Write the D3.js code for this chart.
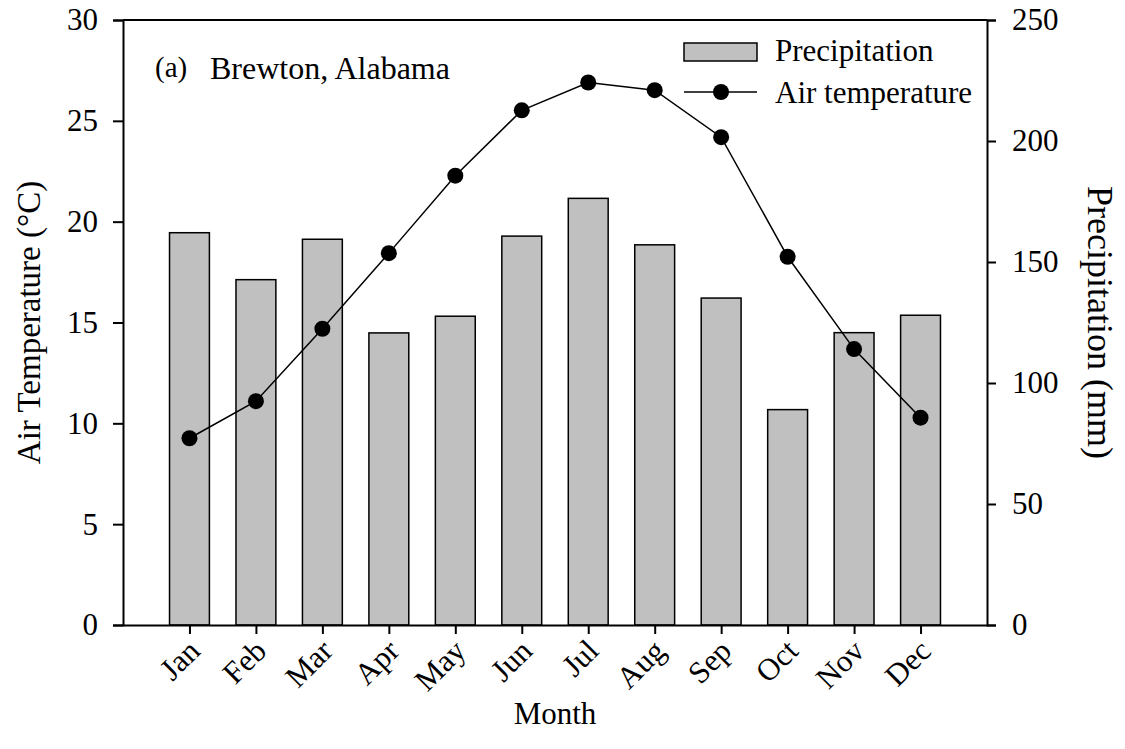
<!DOCTYPE html>
<html>
<head>
<meta charset="utf-8">
<script src="https://cdn.jsdelivr.net/npm/d3@7"></script>
<style>
  body { margin: 0; background: #fff; }
  svg text { font-family: "Liberation Serif", "Times New Roman", serif; fill: #000; }
</style>
</head>
<body>
<script>
var months = ['Jan', 'Feb', 'Mar', 'Apr', 'May', 'Jun', 'Jul', 'Aug', 'Sep', 'Oct', 'Nov', 'Dec']
var precip = [162.1, 142.7, 159.4, 120.7, 127.6, 160.7, 176.3, 157.1, 135.1, 89.0, 120.8, 128.0]
var airTemp = [9.26, 11.1, 14.69, 18.44, 22.28, 25.52, 26.9, 26.52, 24.19, 18.26, 13.68, 10.28]
var tempTicks = [0, 5, 10, 15, 20, 25, 30]
var precipTicks = [0, 50, 100, 150, 200, 250]

var width = 1125
var height = 749
var margin = { top: 20, right: 138, bottom: 124, left: 123 }
var fs = '31px'

var svg = d3.select('body').append('svg')
    .attr('width', width)
    .attr('height', height)

var x = d3.scaleLinear()
    .domain([0, 13])
    .range([margin.left, width - margin.right])

var yT = d3.scaleLinear()
    .domain([0, 30])
    .range([height - margin.bottom, margin.top])

var yP = d3.scaleLinear()
    .domain([0, 250])
    .range([height - margin.bottom, margin.top])

var barW = (x(1) - x(0)) * 0.6

// bars
svg.append('g')
    .selectAll('rect')
    .data(precip)
    .enter().append('rect')
    .attr('x', function(d, i) { return x(i + 1) - barW / 2 })
    .attr('y', function(d) { return yP(d) })
    .attr('width', barW)
    .attr('height', function(d) { return yP(0) - yP(d) })
    .style('fill', '#c0c0c0')
    .style('stroke', '#000')
    .style('stroke-width', 1.5)

// line
var line = d3.line()
    .x(function(d, i) { return x(i + 1) })
    .y(function(d) { return yT(d) })

svg.append('path')
    .datum(airTemp)
    .attr('d', line)
    .style('fill', 'none')
    .style('stroke', '#000')
    .style('stroke-width', 1.5)

svg.append('g')
    .selectAll('circle')
    .data(airTemp)
    .enter().append('circle')
    .attr('cx', function(d, i) { return x(i + 1) })
    .attr('cy', function(d) { return yT(d) })
    .attr('r', 8)
    .style('fill', '#000')

// top border
svg.append('line')
    .attr('x1', x(0)).attr('x2', x(13))
    .attr('y1', yT(30)).attr('y2', yT(30))
    .style('stroke', '#000')
    .style('stroke-width', 2)

// axes
var leftAxis = svg.append('g')
    .attr('transform', 'translate(' + x(0) + ',0)')
    .call(d3.axisLeft(yT).tickValues(tempTicks).tickSize(10).tickPadding(15))

var rightAxis = svg.append('g')
    .attr('transform', 'translate(' + x(13) + ',0)')
    .call(d3.axisRight(yP).tickValues(precipTicks).tickSize(9).tickPadding(16))

var bottomAxis = svg.append('g')
    .attr('transform', 'translate(0,' + yT(0) + ')')
    .call(d3.axisBottom(x)
        .tickValues(d3.range(1, 13))
        .tickFormat(function(d) { return months[d - 1] })
        .tickSize(9)
        .tickSizeOuter(0))

svg.selectAll('.domain').style('stroke', '#000').style('stroke-width', 2)
svg.selectAll('.tick line').style('stroke', '#000').style('stroke-width', 2)
leftAxis.selectAll('text').style('font-size', fs)
rightAxis.selectAll('text').style('font-size', fs)

bottomAxis.selectAll('text')
    .style('font-size', fs)
    .style('text-anchor', 'end')
    .attr('dy', '0.35em')
    .attr('transform', 'translate(4,20) rotate(-45)')
    .attr('y', 0)
    .attr('x', 0)

// axis titles
var midY = margin.top + (height - margin.top - margin.bottom) / 2

svg.append('text')
    .attr('transform', 'translate(40,' + midY + ') rotate(-90)')
    .attr('text-anchor', 'middle')
    .style('font-size', '33px')
    .text('Air Temperature (°C)')

svg.append('text')
    .attr('transform', 'translate(1088,' + midY + ') rotate(90)')
    .attr('text-anchor', 'middle')
    .style('font-size', '36px')
    .text('Precipitation (mm)')

svg.append('text')
    .attr('x', (x(0) + x(13)) / 2)
    .attr('y', 724)
    .attr('text-anchor', 'middle')
    .style('font-size', fs)
    .text('Month')

// panel label
svg.append('text')
    .attr('x', 155)
    .attr('y', 77)
    .style('font-size', '29px')
    .text('(a)')

svg.append('text')
    .attr('x', 210)
    .attr('y', 79)
    .style('font-size', '32px')
    .text('Brewton, Alabama')

// legend
var legend = svg.append('g')

legend.append('rect')
    .attr('x', 684).attr('y', 43)
    .attr('width', 73).attr('height', 18)
    .style('fill', '#c0c0c0')
    .style('stroke', '#000')
    .style('stroke-width', 1.5)

legend.append('text')
    .attr('x', 775).attr('y', 61)
    .style('font-size', fs)
    .text('Precipitation')

legend.append('line')
    .attr('x1', 684).attr('x2', 757)
    .attr('y1', 92).attr('y2', 92)
    .style('stroke', '#000')
    .style('stroke-width', 1.5)

legend.append('circle')
    .attr('cx', 721).attr('cy', 92).attr('r', 8)
    .style('fill', '#000')

legend.append('text')
    .attr('x', 775).attr('y', 103)
    .style('font-size', fs)
    .text('Air temperature')
</script>
</body>
</html>
